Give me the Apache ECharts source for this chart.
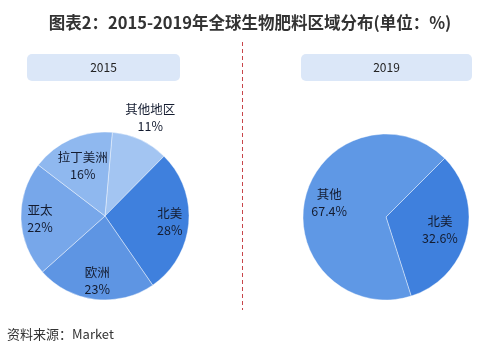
<!DOCTYPE html>
<html><head><meta charset="utf-8">
<script src="https://cdn.jsdelivr.net/npm/echarts@6/dist/echarts.min.js"></script>
<style>html,body{margin:0;padding:0;background:#fff}#c{width:500px;height:355px}</style>
</head><body><div id="c"></div>
<script>
const titleText = '图表2：2015-2019年全球生物肥料区域分布(单位：%)';
const sourceText = '资料来源：Market';
const years = ['2015', '2019'];
const names2015 = ['其他地区', '北美', '欧洲', '亚太', '拉丁美洲'];
const values2015 = [11, 28, 23, 22, 16];
const colors2015 = ['#a3c5f2', '#3f80dd', '#5e95e3', '#77a7ea', '#8fb8ef'];
const names2019 = ['北美', '其他'];
const values2019 = [32.6, 67.4];
const colors2019 = ['#3f80dd', '#5f98e5'];

const font = 'Noto Sans CJK SC';
const chart = echarts.init(document.getElementById('c'));

function pieData(names, values, colors) {
  return names.map((n, i) => ({ name: n, value: values[i], itemStyle: { color: colors[i] } }));
}
function labelData(names, values, show) {
  return names.map((n, i) => ({ name: n, value: values[i], label: { show: show.includes(n) } }));
}
const baseLabel = {
  position: 'inside', color: '#141c30', fontSize: 12.5, fontFamily: font, lineHeight: 17,
  formatter: p => p.name + '\n' + p.value + '%'
};
function overlay(center, radius, startAngle, names, values, show) {
  return {
    type: 'pie', center, radius, startAngle, silent: true, z: 5,
    itemStyle: { color: 'rgba(0,0,0,0)', borderWidth: 0 },
    label: baseLabel, labelLine: { show: false },
    emphasis: { disabled: true },
    data: labelData(names, values, show)
  };
}
const c1 = [105, 216], c2 = [386, 217];
chart.setOption({
  animation: false,
  title: {
    text: titleText, left: 'center', top: 9,
    textStyle: { fontSize: 16.5, fontWeight: 'bold', color: '#333', fontFamily: font }
  },
  graphic: [
    { type: 'rect', shape: { x: 27, y: 54, width: 153, height: 27, r: 5 }, style: { fill: '#dbe7f8' } },
    { type: 'text', x: 103.5, y: 67.5, style: { text: years[0], fill: '#222', fontSize: 12, fontFamily: font, align: 'center', verticalAlign: 'middle' } },
    { type: 'rect', shape: { x: 301, y: 54, width: 171, height: 27, r: 5 }, style: { fill: '#dbe7f8' } },
    { type: 'text', x: 386.5, y: 67.5, style: { text: years[1], fill: '#222', fontSize: 12, fontFamily: font, align: 'center', verticalAlign: 'middle' } },
    { type: 'line', shape: { x1: 242.5, y1: 42, x2: 242.5, y2: 310 }, style: { stroke: '#c8454a', lineWidth: 1, lineDash: [4, 3] } },
    { type: 'text', x: 7, y: 334, style: { text: sourceText, fill: '#333', fontSize: 13, fontFamily: font, verticalAlign: 'middle' } }
  ],
  series: [
    {
      type: 'pie', center: c1, radius: [0, 84], startAngle: 85, clockwise: true, z: 2,
      label: { show: false }, labelLine: { show: false }, silent: true,
      itemStyle: { borderColor: 'rgba(255,255,255,0.4)', borderWidth: 1 },
      data: pieData(names2015, values2015, colors2015)
    },
    overlay(c1, [40, 84], 85, names2015, values2015, ['北美', '欧洲', '亚太']),
    overlay(c1, [20, 84], 85, names2015, values2015, ['拉丁美洲']),
    overlay(c1, [84, 126], 85, names2015, values2015, ['其他地区']),
    {
      type: 'pie', center: c2, radius: [0, 83], startAngle: 45, clockwise: true, z: 2,
      label: { show: false }, labelLine: { show: false }, silent: true,
      itemStyle: { borderColor: 'rgba(255,255,255,0.4)', borderWidth: 1 },
      data: pieData(names2019, values2019, colors2019)
    },
    overlay(c2, [22, 83], 45, names2019, values2019, ['北美']),
    overlay(c2, [28, 83], 45, names2019, values2019, ['其他'])
  ]
});
</script></body></html>
